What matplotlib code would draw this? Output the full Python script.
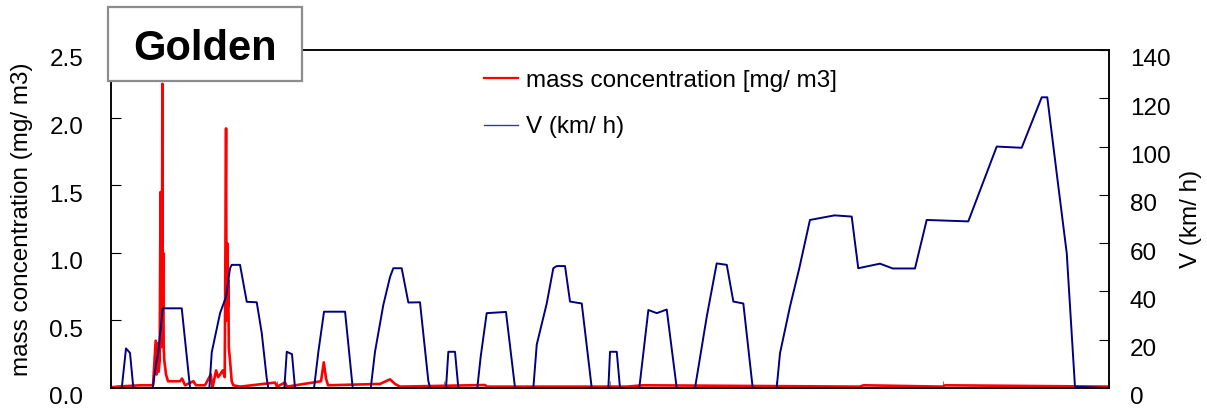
import matplotlib
matplotlib.use("Agg")
import matplotlib.pyplot as plt
import matplotlib.transforms as mtransforms
from matplotlib.lines import Line2D
from matplotlib.patches import Rectangle

plt.rcParams['font.family'] = ['Liberation Sans', 'DejaVu Sans']

# vitesse (km/h), cycle NEDC : 4 ECE + EUDC
t_vit = [0, 12.9, 18, 22.8, 26.8, 50.1, 54.9, 56.5, 62.2, 85, 95,
         118.2, 121.1, 131.1, 138.3, 143.1, 145.1, 155.1, 163.2, 175.2, 181.2, 187.2, 189.1,
         208.4, 211.3, 217.6, 221.2, 244.1, 249.3, 256.1, 281.4, 290.6,
         312.3, 317.4, 327.4, 335.5, 339.4, 349.5, 357.5, 371.5, 381.5, 383.6,
         402.8, 405.6, 413.6, 417.6, 440.4, 444.5, 451.7, 474.9, 485.8,
         507.8, 511.9, 523.9, 531.8, 535.9, 545.9, 551.9, 566, 578,
         598, 600, 608.1, 612, 635.2, 646.1, 656.2, 668.2, 680.2,
         702.2, 716.3, 728.3, 740.4, 748.3, 760.3, 771.6,
         800.4, 804.4, 816.4, 827.6, 840.4, 870, 890.6, 898.5, 924.6, 940, 966.7,
         980.8, 1030.8, 1065, 1095, 1119.1, 1125.8, 1137.1, 1149.2, 1159.1, 1200]
vitesse = [0, 0, 16.4, 14.5, 0, 0, 11.6, 14, 33, 33, 0,
           0, 14.8, 31, 37.8, 49.6, 51, 51, 35.7, 35.5, 22.8, 4, 0,
           0, 15, 14, 0, 0, 15, 31.6, 31.6, 0,
           0, 15, 34.4, 46, 49.6, 49.6, 35.4, 35.5, 3, 0,
           0, 15, 15, 0, 0, 13, 31, 31.5, 0,
           0, 18, 35, 49.6, 50.5, 50.5, 35.8, 35, 0,
           0, 15, 15, 0, 0, 32.3, 31, 32.5, 0,
           0, 29.5, 51.6, 51, 35.8, 35, 0,
           0, 14.4, 33.7, 49.6, 69.6, 71.5, 71, 49.6, 51.5, 49.5, 49.5,
           69.6, 69, 100, 99.5, 120.4, 120.4, 89, 55.8, 0.5, 0]

# concentration massique (mg/m3)
t_conc = [0, 7.2, 34.9, 50.5, 53.7, 54.8, 55.9, 57.2, 58.5, 59.5, 60.0, 60.6, 61.2,
          61.7, 62.2, 62.7, 63.3, 64.1, 66.1, 68.5,
          83, 85.4, 89, 99, 102.2, 113, 119.9, 122, 126.3, 128.7, 131.1, 134.3, 136.7,
          138.3, 138.9, 139.8, 140.4, 141, 141.6, 143.1, 145.1, 147, 155.1,
          197.2, 199.6, 209.2, 211.6,
          252.5, 255.8, 258.5, 260.9, 323.4, 335.5, 341.5, 347.5, 449.7, 452,
          620, 640, 900, 905, 1000, 1003, 1200]
conc = [0.005, 0.01, 0.02, 0.02, 0.35, 0.1, 0.33, 0.12, 0.2, 1.45, 0.3, 1.2, 0.4,
        2.25, 0.6, 1.0, 0.3, 0.2, 0.1, 0.05,
        0.05, 0.07, 0.02, 0.05, 0.02, 0.02, 0.1, 0.0, 0.13, 0.08, 0.1, 0.13, 0.08,
        1.92, 0.5, 1.07, 0.6, 0.8, 0.3, 0.2, 0.05, 0.02, 0.01,
        0.04, 0.01, 0.04, 0.01,
        0.05, 0.19, 0.07, 0.02, 0.03, 0.064, 0.03, 0.01, 0.022, 0.01,
        0.01, 0.02, 0.01, 0.02, 0.01, 0.02, 0.01]

fig = plt.figure(figsize=(12.07, 4.18), dpi=100)
ax = fig.add_axes([0.092, 0.0718, 0.8268, 0.8086])
ax2 = ax.twinx()

ax.plot(t_conc, conc, color='#ff0000', lw=1.9)
ax2.plot(t_vit, vitesse, color='#000080', lw=1.4)

ax.set_xlim(0, 1200)
ax.set_ylim(0, 2.5)
ax2.set_ylim(0, 140)

ax.set_xticks(range(0, 1201, 200))
ax.tick_params(axis='x', direction='in', length=5, color='#808080', labelbottom=False)
ax.set_yticks([0, 0.5, 1.0, 1.5, 2.0, 2.5])
ax.set_yticklabels(['0.0', '0.5', '1.0', '1.5', '2.0', '2.5'])
ax.tick_params(axis='y', direction='in', length=7, labelsize=17.5, pad=20)
ax2.set_yticks(range(0, 141, 20))
ax2.tick_params(axis='y', direction='in', length=7, labelsize=17.5, pad=15)

# les etiquettes sont un peu sous les graduations dans l'original
decal = mtransforms.ScaledTranslation(0, -0.08, fig.dpi_scale_trans)
for lab in ax.get_yticklabels() + ax2.get_yticklabels():
    lab.set_transform(lab.get_transform() + decal)

for a in (ax, ax2):
    for s in a.spines.values():
        s.set_linewidth(1.1)

ax.set_ylabel('mass concentration (mg/ m3)', fontsize=17.5)
ax.yaxis.set_label_coords(-0.078, 0.5)
ax2.set_ylabel('V (km/ h)', fontsize=17.5)
ax2.yaxis.set_label_coords(1.071, 0.5)

handles = [Line2D([], [], color='#ff0000', lw=1.6),
           Line2D([], [], color='#3838a0', lw=1.0)]
ax2.legend(handles, ['mass concentration [mg/ m3]', 'V (km/ h)'], loc='upper left',
           bbox_to_anchor=(0.374, 0.941), frameon=False, fontsize=17.5,
           handlelength=1.4, handletextpad=0.3, labelspacing=1.0,
           borderpad=0, borderaxespad=0)

# encadre "Golden"
fig.patches.append(Rectangle((0.0895, 0.806), 0.1607, 0.177, transform=fig.transFigure,
                             facecolor='white', edgecolor='#8c8c8c', lw=1.6, zorder=5))
fig.text(0.1698, 0.883, 'Golden', ha='center', va='center', fontsize=30,
         fontweight='bold', zorder=6)

fig.savefig('out.png', dpi=100)
